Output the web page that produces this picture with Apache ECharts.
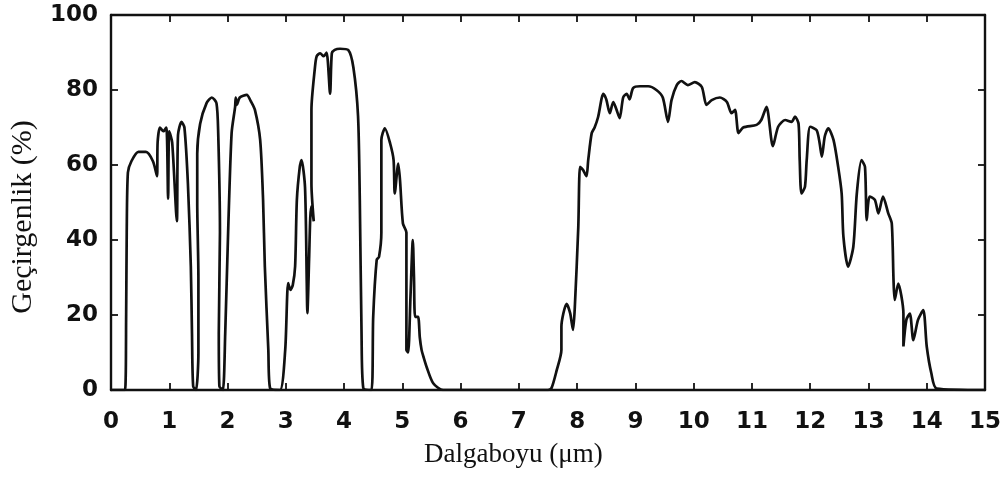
<!DOCTYPE html>
<html>
<head>
<meta charset="utf-8">
<script src="https://cdn.jsdelivr.net/npm/echarts@6/dist/echarts.min.js"></script>
<style>
  html, body { margin: 0; padding: 0; background: #ffffff; }
  #chart { width: 1005px; height: 477px; }
</style>
</head>
<body>
<div id="chart"></div>
<script>
// Atmospheric transmittance trace, 0-15 µm (traced in drawing order, so x may step back)
const wavelength = [
  0, 0.24, 0.26, 0.27, 0.29, 0.35, 0.47, 0.60, 0.72, 0.79, 0.80, 0.84, 0.90, 0.95, 0.98, 1.00, 1.05, 1.13,
  1.15, 1.21, 1.26, 1.32, 1.37, 1.39, 1.41, 1.46, 1.50, 1.50, 1.48, 1.48, 1.53, 1.64, 1.73, 1.81, 1.84,
  1.87, 1.85, 1.86, 1.92, 1.96, 2.01, 2.07, 2.13, 2.14, 2.16, 2.21, 2.33, 2.40, 2.47, 2.56, 2.61, 2.64,
  2.70, 2.73, 2.90, 2.99, 3.04, 3.08, 3.12, 3.16, 3.19, 3.24, 3.27, 3.33, 3.36, 3.37, 3.40, 3.42, 3.44,
  3.48, 3.44, 3.44, 3.50, 3.53, 3.59, 3.65, 3.70, 3.76, 3.79, 3.84, 3.93, 4.07, 4.16, 4.24, 4.27, 4.30,
  4.33, 4.47, 4.50, 4.56, 4.60, 4.64, 4.64, 4.70, 4.79, 4.85, 4.87, 4.93, 4.96, 5.01, 5.07, 5.07, 5.10,
  5.14, 5.18, 5.20, 5.22, 5.27, 5.30, 5.33, 5.36, 5.42, 5.53, 5.70,
  7.50, 7.56, 7.65, 7.73, 7.73, 7.82, 7.88, 7.93, 7.96, 8.02, 8.05, 8.10, 8.16, 8.19, 8.25, 8.30, 8.36,
  8.45, 8.50, 8.56, 8.62, 8.67, 8.73, 8.79, 8.85, 8.90, 8.96, 9.08, 9.22, 9.36, 9.47, 9.56, 9.62, 9.71,
  9.79, 9.90, 10.02, 10.14, 10.22, 10.31, 10.45, 10.57, 10.65, 10.71, 10.77, 10.85, 11.08, 11.16, 11.25,
  11.36, 11.45, 11.57, 11.68, 11.74, 11.80, 11.82, 11.85, 11.91, 11.94, 12.00, 12.11, 12.16, 12.20,
  12.25, 12.31, 12.40, 12.48, 12.54, 12.57, 12.65, 12.74, 12.80, 12.88, 12.94, 12.97, 13.02, 13.11,
  13.17, 13.25, 13.34, 13.40, 13.43, 13.45, 13.51, 13.60, 13.60, 13.65, 13.71, 13.77, 13.85, 13.94,
  14.00, 14.08, 14.17, 15
];
const transmittance = [
  0, 0, 20, 42, 58, 61, 63.5, 63.5, 61, 57, 66, 70, 69, 70, 51, 69, 66, 45,
  68, 71.5, 70, 55, 33, 15, 1, 0, 10, 30, 50, 63, 71, 76.5, 78, 76.5, 68.5,
  42, 15, 1, 0, 15, 42, 68.5, 75.5, 78, 76, 78, 78.7, 77, 74.7, 66.7, 50.7, 33,
  10.7, 0.5, 0, 10.7, 28.5, 26.7, 28, 33, 50.7, 59.5, 61.3, 54, 28.5, 20.5, 35, 46, 49,
  45, 55, 74.7, 86, 89, 89.8, 89, 90, 79, 89.8, 90.7, 91, 90.7, 86, 73, 50.7, 15,
  0.5, 0, 19.5, 34.7, 35.5, 42, 66.7, 69.8, 65.8, 61.3, 52.4, 60.4, 56, 44.4, 42, 10.7, 10,
  25, 40, 30, 19.5, 19.5, 14, 10.7, 9, 6, 1.8, 0,
  0, 0.5, 5.3, 10.7, 16.9, 23, 20.5, 16, 22, 43.5, 59.5, 58.7, 57, 61.3, 68.5, 70, 72.8,
  79, 77.5, 73.8, 76.8, 75, 72.5, 78, 79, 77.5, 80.5, 81, 81, 80, 78, 71.5, 77.3, 81.3,
  82.4, 81.3, 82.1, 80.8, 76, 77.3, 78, 76.8, 73.8, 74.7, 68.5, 70, 70.7, 72, 75.5,
  65, 70.2, 72, 71.5, 72.9, 71, 61.3, 52.4, 54.2, 61.3, 70.2, 69.3, 66, 62.2,
  67.6, 69.8, 66.7, 59.5, 52.4, 40.9, 32.9, 38.2, 52.4, 61.3, 59.5, 45.3, 51.6, 50.7,
  47.1, 51.6, 47.1, 44.4, 29.3, 24, 28.4, 20.4, 11.6, 18.7, 20.4, 13.3, 18.7, 21.3,
  11.6, 4.4, 0.4, 0
];

const xTitle = 'Dalgaboyu (\u03bcm)';
const yTitle = 'Ge\u00e7irgenlik (%)';

const points = wavelength.map((w, i) => [w, transmittance[i]]);

const ink = '#111111';
const tickFont = { color: ink, fontFamily: 'DejaVu Sans', fontWeight: 'bold', fontSize: 23 };

function valueAxis(pos, min, max, step, withLabels, labelMargin) {
  return {
    type: 'value', position: pos, min: min, max: max, interval: step,
    axisLine: { show: true, onZero: false, lineStyle: { color: ink, width: 2.4 } },
    axisTick: { show: true, inside: true, length: 7, lineStyle: { color: ink, width: 1.8 } },
    axisLabel: Object.assign({ show: withLabels, margin: labelMargin }, tickFont),
    splitLine: { show: false }
  };
}

const chart = echarts.init(document.getElementById('chart'), null, { renderer: 'canvas' });
chart.setOption({
  animation: false,
  backgroundColor: '#ffffff',
  grid: { left: 111, right: 20, top: 15, bottom: 87 },
  xAxis: [
    valueAxis('bottom', 0, 15, 1, true, 21),
    valueAxis('top', 0, 15, 1, false, 8)
  ],
  yAxis: [
    valueAxis('left', 0, 100, 20, true, 13),
    valueAxis('right', 0, 100, 20, false, 8)
  ],
  graphic: [
    {
      type: 'text', left: 424, top: 441,
      style: { text: xTitle, fill: ink, font: '27px "Liberation Serif"' }
    },
    {
      type: 'text', x: 23, y: 217, rotation: Math.PI / 2,
      style: { text: yTitle, fill: ink, font: '30px "Liberation Serif"', align: 'center', verticalAlign: 'middle' }
    }
  ],
  series: [{
    type: 'line',
    xAxisIndex: 0, yAxisIndex: 0,
    data: points,
    showSymbol: false,
    smooth: 0.25,
    lineStyle: { color: ink, width: 2.7 }
  }]
});
</script>
</body>
</html>
